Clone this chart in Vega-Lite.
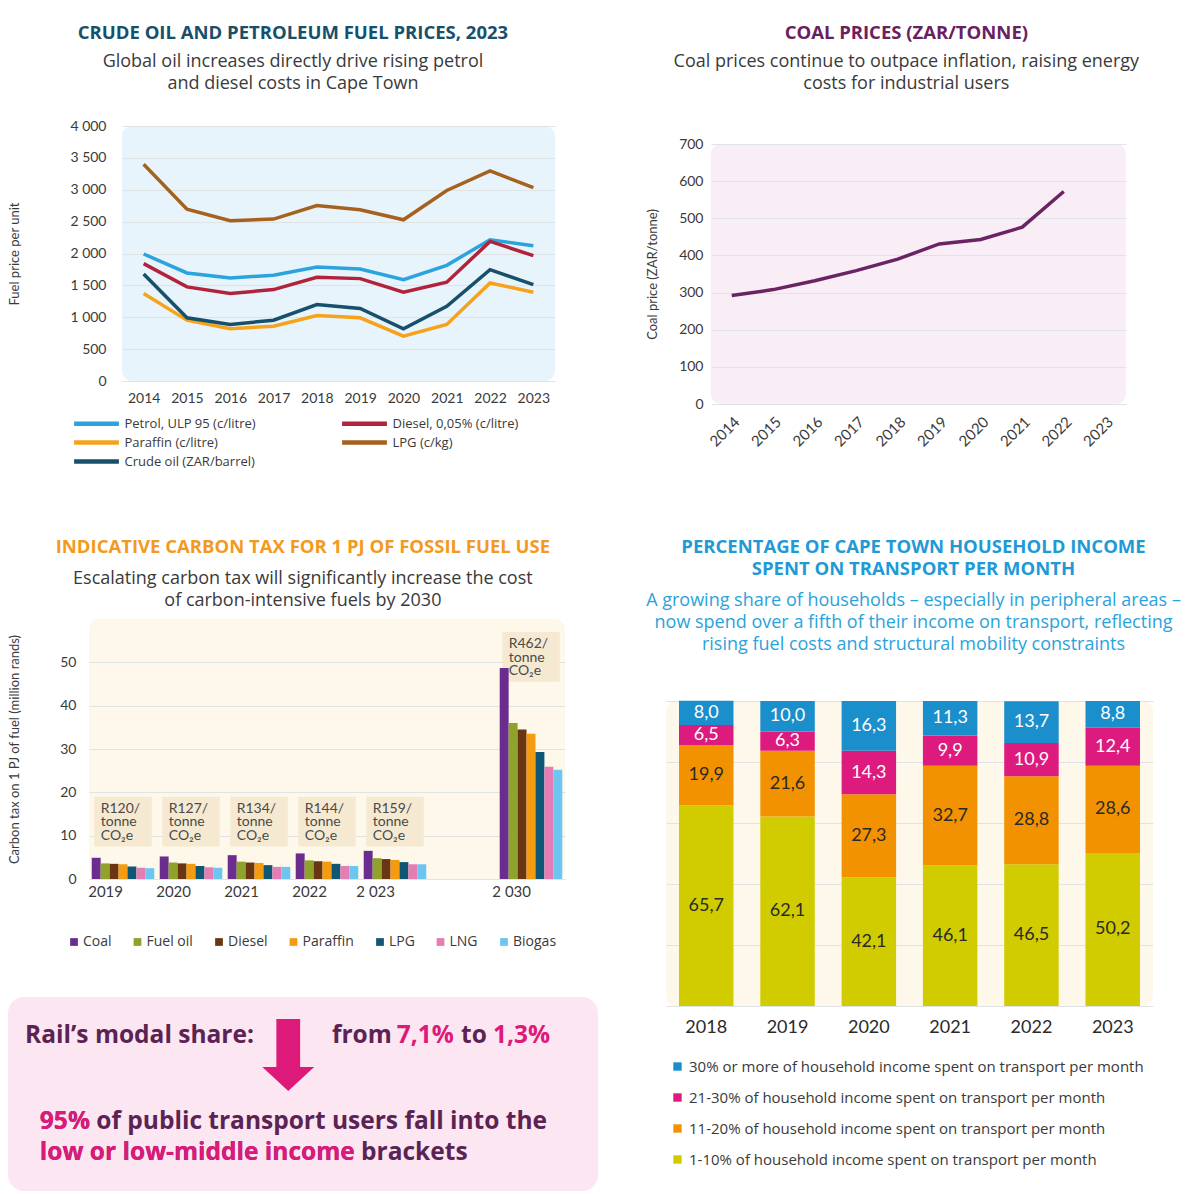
{
  "$schema": "https://vega.github.io/schema/vega-lite/v6.json",
  "background": "white",
  "padding": {"left": 1, "top": 16, "right": 0, "bottom": 0},
  "config": {
    "font": "Open Sans",
    "locale": {"number": {"decimal": ",", "thousands": " ", "grouping": [3], "currency": ["", ""]}},
    "view": {"stroke": null},
    "axis": {"labelFont": "Lato", "titleFont": "Lato", "labelColor": "#3a3a3a", "titleColor": "#3a3a3a", "titleFontWeight": "normal", "gridColor": "#dfe3e6", "domain": false, "ticks": false},
    "legend": {"labelFont": "Open Sans", "labelColor": "#3a3a3a"},
    "title": {"font": "Open Sans", "fontWeight": "bold", "fontSize": 18.5, "subtitleFont": "Open Sans", "subtitleFontSize": 18, "subtitleColor": "#3a3a3a", "subtitleLineHeight": 22, "subtitlePadding": 11, "anchor": "middle", "frame": "bounds"}
  },
  "datasets": {
    "fuel": [
      {"year": "2014", "series": "Petrol, ULP 95 (c/litre)", "value": 1992},
      {"year": "2015", "series": "Petrol, ULP 95 (c/litre)", "value": 1695},
      {"year": "2016", "series": "Petrol, ULP 95 (c/litre)", "value": 1617},
      {"year": "2017", "series": "Petrol, ULP 95 (c/litre)", "value": 1658},
      {"year": "2018", "series": "Petrol, ULP 95 (c/litre)", "value": 1789},
      {"year": "2019", "series": "Petrol, ULP 95 (c/litre)", "value": 1757},
      {"year": "2020", "series": "Petrol, ULP 95 (c/litre)", "value": 1590},
      {"year": "2021", "series": "Petrol, ULP 95 (c/litre)", "value": 1815},
      {"year": "2022", "series": "Petrol, ULP 95 (c/litre)", "value": 2216},
      {"year": "2023", "series": "Petrol, ULP 95 (c/litre)", "value": 2123},
      {"year": "2014", "series": "Diesel, 0,05% (c/litre)", "value": 1841},
      {"year": "2015", "series": "Diesel, 0,05% (c/litre)", "value": 1476},
      {"year": "2016", "series": "Diesel, 0,05% (c/litre)", "value": 1372},
      {"year": "2017", "series": "Diesel, 0,05% (c/litre)", "value": 1434},
      {"year": "2018", "series": "Diesel, 0,05% (c/litre)", "value": 1627},
      {"year": "2019", "series": "Diesel, 0,05% (c/litre)", "value": 1606},
      {"year": "2020", "series": "Diesel, 0,05% (c/litre)", "value": 1392},
      {"year": "2021", "series": "Diesel, 0,05% (c/litre)", "value": 1549},
      {"year": "2022", "series": "Diesel, 0,05% (c/litre)", "value": 2190},
      {"year": "2023", "series": "Diesel, 0,05% (c/litre)", "value": 1966},
      {"year": "2014", "series": "Paraffin (c/litre)", "value": 1372},
      {"year": "2015", "series": "Paraffin (c/litre)", "value": 954},
      {"year": "2016", "series": "Paraffin (c/litre)", "value": 819},
      {"year": "2017", "series": "Paraffin (c/litre)", "value": 860},
      {"year": "2018", "series": "Paraffin (c/litre)", "value": 1027},
      {"year": "2019", "series": "Paraffin (c/litre)", "value": 991},
      {"year": "2020", "series": "Paraffin (c/litre)", "value": 704},
      {"year": "2021", "series": "Paraffin (c/litre)", "value": 887},
      {"year": "2022", "series": "Paraffin (c/litre)", "value": 1538},
      {"year": "2023", "series": "Paraffin (c/litre)", "value": 1392},
      {"year": "2014", "series": "LPG (c/kg)", "value": 3400},
      {"year": "2015", "series": "LPG (c/kg)", "value": 2696},
      {"year": "2016", "series": "LPG (c/kg)", "value": 2514},
      {"year": "2017", "series": "LPG (c/kg)", "value": 2540},
      {"year": "2018", "series": "LPG (c/kg)", "value": 2753},
      {"year": "2019", "series": "LPG (c/kg)", "value": 2686},
      {"year": "2020", "series": "LPG (c/kg)", "value": 2529},
      {"year": "2021", "series": "LPG (c/kg)", "value": 2988},
      {"year": "2022", "series": "LPG (c/kg)", "value": 3296},
      {"year": "2023", "series": "LPG (c/kg)", "value": 3035},
      {"year": "2014", "series": "Crude oil (ZAR/barrel)", "value": 1679},
      {"year": "2015", "series": "Crude oil (ZAR/barrel)", "value": 991},
      {"year": "2016", "series": "Crude oil (ZAR/barrel)", "value": 887},
      {"year": "2017", "series": "Crude oil (ZAR/barrel)", "value": 954},
      {"year": "2018", "series": "Crude oil (ZAR/barrel)", "value": 1199},
      {"year": "2019", "series": "Crude oil (ZAR/barrel)", "value": 1137},
      {"year": "2020", "series": "Crude oil (ZAR/barrel)", "value": 819},
      {"year": "2021", "series": "Crude oil (ZAR/barrel)", "value": 1173},
      {"year": "2022", "series": "Crude oil (ZAR/barrel)", "value": 1747},
      {"year": "2023", "series": "Crude oil (ZAR/barrel)", "value": 1512}
    ],
    "coal": [
      {"year": "2014", "price": 292},
      {"year": "2015", "price": 308},
      {"year": "2016", "price": 332},
      {"year": "2017", "price": 359},
      {"year": "2018", "price": 390},
      {"year": "2019", "price": 431},
      {"year": "2020", "price": 443},
      {"year": "2021", "price": 476},
      {"year": "2022", "price": 572}
    ],
    "tax": [
      {"year": "2019", "fuel": "Coal", "value": 4.9},
      {"year": "2019", "fuel": "Fuel oil", "value": 3.6},
      {"year": "2019", "fuel": "Diesel", "value": 3.5},
      {"year": "2019", "fuel": "Paraffin", "value": 3.4},
      {"year": "2019", "fuel": "LPG", "value": 2.9},
      {"year": "2019", "fuel": "LNG", "value": 2.6},
      {"year": "2019", "fuel": "Biogas", "value": 2.5},
      {"year": "2020", "fuel": "Coal", "value": 5.2},
      {"year": "2020", "fuel": "Fuel oil", "value": 3.8},
      {"year": "2020", "fuel": "Diesel", "value": 3.6},
      {"year": "2020", "fuel": "Paraffin", "value": 3.5},
      {"year": "2020", "fuel": "LPG", "value": 3.0},
      {"year": "2020", "fuel": "LNG", "value": 2.7},
      {"year": "2020", "fuel": "Biogas", "value": 2.6},
      {"year": "2021", "fuel": "Coal", "value": 5.5},
      {"year": "2021", "fuel": "Fuel oil", "value": 4.0},
      {"year": "2021", "fuel": "Diesel", "value": 3.8},
      {"year": "2021", "fuel": "Paraffin", "value": 3.7},
      {"year": "2021", "fuel": "LPG", "value": 3.2},
      {"year": "2021", "fuel": "LNG", "value": 2.8},
      {"year": "2021", "fuel": "Biogas", "value": 2.8},
      {"year": "2022", "fuel": "Coal", "value": 5.9},
      {"year": "2022", "fuel": "Fuel oil", "value": 4.3},
      {"year": "2022", "fuel": "Diesel", "value": 4.1},
      {"year": "2022", "fuel": "Paraffin", "value": 4.0},
      {"year": "2022", "fuel": "LPG", "value": 3.5},
      {"year": "2022", "fuel": "LNG", "value": 3.0},
      {"year": "2022", "fuel": "Biogas", "value": 3.0},
      {"year": "2 023", "fuel": "Coal", "value": 6.5},
      {"year": "2 023", "fuel": "Fuel oil", "value": 4.8},
      {"year": "2 023", "fuel": "Diesel", "value": 4.6},
      {"year": "2 023", "fuel": "Paraffin", "value": 4.4},
      {"year": "2 023", "fuel": "LPG", "value": 3.9},
      {"year": "2 023", "fuel": "LNG", "value": 3.4},
      {"year": "2 023", "fuel": "Biogas", "value": 3.4},
      {"year": "2 030", "fuel": "Coal", "value": 48.7},
      {"year": "2 030", "fuel": "Fuel oil", "value": 36.0},
      {"year": "2 030", "fuel": "Diesel", "value": 34.5},
      {"year": "2 030", "fuel": "Paraffin", "value": 33.5},
      {"year": "2 030", "fuel": "LPG", "value": 29.3},
      {"year": "2 030", "fuel": "LNG", "value": 25.9},
      {"year": "2 030", "fuel": "Biogas", "value": 25.2}
    ],
    "rates": [
      {"year": "2019", "lo": 7.5, "hi": 19, "label": "R120/\ntonne\nCO₂e"},
      {"year": "2020", "lo": 7.5, "hi": 19, "label": "R127/\ntonne\nCO₂e"},
      {"year": "2021", "lo": 7.5, "hi": 19, "label": "R134/\ntonne\nCO₂e"},
      {"year": "2022", "lo": 7.5, "hi": 19, "label": "R144/\ntonne\nCO₂e"},
      {"year": "2 023", "lo": 7.5, "hi": 19, "label": "R159/\ntonne\nCO₂e"},
      {"year": "2 030", "lo": 45.5, "hi": 57, "label": "R462/\ntonne\nCO₂e"}
    ],
    "share": [
      {"year": "2018", "cat": "1-10% of household income spent on transport per month", "value": 65.7},
      {"year": "2018", "cat": "11-20% of household income spent on transport per month", "value": 19.9},
      {"year": "2018", "cat": "21-30% of household income spent on transport per month", "value": 6.5},
      {"year": "2018", "cat": "30% or more of household income spent on transport per month", "value": 8.0},
      {"year": "2019", "cat": "1-10% of household income spent on transport per month", "value": 62.1},
      {"year": "2019", "cat": "11-20% of household income spent on transport per month", "value": 21.6},
      {"year": "2019", "cat": "21-30% of household income spent on transport per month", "value": 6.3},
      {"year": "2019", "cat": "30% or more of household income spent on transport per month", "value": 10.0},
      {"year": "2020", "cat": "1-10% of household income spent on transport per month", "value": 42.1},
      {"year": "2020", "cat": "11-20% of household income spent on transport per month", "value": 27.3},
      {"year": "2020", "cat": "21-30% of household income spent on transport per month", "value": 14.3},
      {"year": "2020", "cat": "30% or more of household income spent on transport per month", "value": 16.3},
      {"year": "2021", "cat": "1-10% of household income spent on transport per month", "value": 46.1},
      {"year": "2021", "cat": "11-20% of household income spent on transport per month", "value": 32.7},
      {"year": "2021", "cat": "21-30% of household income spent on transport per month", "value": 9.9},
      {"year": "2021", "cat": "30% or more of household income spent on transport per month", "value": 11.3},
      {"year": "2022", "cat": "1-10% of household income spent on transport per month", "value": 46.5},
      {"year": "2022", "cat": "11-20% of household income spent on transport per month", "value": 28.8},
      {"year": "2022", "cat": "21-30% of household income spent on transport per month", "value": 10.9},
      {"year": "2022", "cat": "30% or more of household income spent on transport per month", "value": 13.7},
      {"year": "2023", "cat": "1-10% of household income spent on transport per month", "value": 50.2},
      {"year": "2023", "cat": "11-20% of household income spent on transport per month", "value": 28.6},
      {"year": "2023", "cat": "21-30% of household income spent on transport per month", "value": 12.4},
      {"year": "2023", "cat": "30% or more of household income spent on transport per month", "value": 8.8}
    ],
    "rail": [{"k": 1}]
  },
  "concat": [
    {"width": 1, "height": 1, "data": {"name": "rail"}, "mark": {"type": "point", "opacity": 0}, "encoding": {}},
    {"width": 1, "height": 1, "data": {"name": "rail"}, "mark": {"type": "point", "opacity": 0}, "encoding": {}},
    {
      "concat": [
        {"width": 1, "height": 1, "data": {"name": "rail"}, "mark": {"type": "point", "opacity": 0}, "encoding": {}},
        {
          "width": 433, "height": 255,
          "view": {"fill": "#e8f4fb", "cornerRadius": 10},
          "title": {"text": "CRUDE OIL AND PETROLEUM FUEL PRICES, 2023", "color": "#17506b", "subtitle": ["Global oil increases directly drive rising petrol", "and diesel costs in Cape Town"], "offset": 26, "dx": 11},
          "data": {"name": "fuel"},
          "mark": {"type": "line", "strokeWidth": 3.5},
          "encoding": {
            "x": {"field": "year", "type": "ordinal", "scale": {"padding": 0.5}, "axis": {"title": null, "labelAngle": 0, "labelFontSize": 14, "labelPadding": 10}},
            "y": {"field": "value", "type": "quantitative", "scale": {"domain": [0, 4000]}, "axis": {"title": "Fuel price per unit", "values": [0, 500, 1000, 1500, 2000, 2500, 3000, 3500, 4000], "format": ",.0f", "labelFontSize": 14, "titleFontSize": 13, "labelPadding": 16, "titlePadding": 48}},
            "color": {"field": "series", "type": "nominal", "sort": null,
              "scale": {"domain": ["Petrol, ULP 95 (c/litre)", "Diesel, 0,05% (c/litre)", "Paraffin (c/litre)", "LPG (c/kg)", "Crude oil (ZAR/barrel)"], "range": ["#2ba3dc", "#b2233b", "#f7a21b", "#a5621f", "#17506b"]},
              "legend": {"title": null, "orient": "none", "legendX": -53, "legendY": 270, "direction": "horizontal", "columns": 2, "symbolType": "M-3.2,0L3.2,0", "symbolSize": 196, "symbolStrokeWidth": 4.5, "labelFontSize": 13, "columnPadding": 77, "rowPadding": 0, "labelOffset": 18.5, "padding": 18}}
          }
        },
        {"width": 1, "height": 1, "data": {"name": "rail"}, "mark": {"type": "point", "opacity": 0}, "encoding": {}},
        {
          "width": 476, "height": 260,
          "view": {"fill": "#fdf8ea", "cornerRadius": 10},
          "title": {"text": "INDICATIVE CARBON TAX FOR 1 PJ OF FOSSIL FUEL USE", "color": "#f39a1e", "subtitlePadding": 14, "subtitle": ["Escalating carbon tax will significantly increase the cost", "of carbon-intensive fuels by 2030"], "offset": 9, "dx": 16},
          "layer": [
            {
              "data": {"name": "rates"},
              "mark": {"type": "bar", "color": "#f6e9d2", "width": {"band": 0.92}},
              "encoding": {
                "x": {"field": "year", "type": "nominal"},
                "y": {"field": "lo", "type": "quantitative"},
                "y2": {"field": "hi"}
              }
            },
            {
              "data": {"name": "rates"},
              "mark": {"type": "text", "align": "left", "baseline": "top", "font": "Lato", "fontSize": 14, "color": "#4a4a4a", "lineBreak": "\n", "lineHeight": 13.5, "dx": 9, "dy": 5},
              "encoding": {
                "x": {"field": "year", "type": "nominal", "bandPosition": 0},
                "y": {"field": "hi", "type": "quantitative"},
                "text": {"field": "label"}
              }
            },
            {
              "data": {"name": "tax"},
              "mark": {"type": "bar"},
              "encoding": {
                "x": {"field": "year", "type": "nominal", "sort": null,
                  "scale": {"domain": ["2019", "2020", "2021", "2022", "2 023", " ", "2 030"], "paddingInner": 0.08, "paddingOuter": 0.04},
                  "axis": {"title": null, "labelAngle": 0, "labelFontSize": 15, "labelPadding": 12}},
                "xOffset": {"field": "fuel", "type": "nominal", "sort": null, "scale": {"domain": ["Coal", "Fuel oil", "Diesel", "Paraffin", "LPG", "LNG", "Biogas"]}},
                "y": {"field": "value", "type": "quantitative", "scale": {"domain": [0, 58]},
                  "axis": {"title": "Carbon tax on 1 PJ of fuel (million rands)", "values": [0, 5, 10, 15, 20, 25, 30, 35, 40, 45, 50], "labelFontSize": 14, "titleFontSize": 13, "labelPadding": 13, "titlePadding": 38}},
                "color": {"field": "fuel", "type": "nominal", "sort": null,
                  "scale": {"domain": ["Coal", "Fuel oil", "Diesel", "Paraffin", "LPG", "LNG", "Biogas"], "range": ["#6b2c8f", "#8fa22b", "#6a3512", "#f49b12", "#0f5775", "#e47db4", "#6cc6f0"]},
                  "legend": {"title": null, "orient": "none", "legendX": -22, "legendY": 316, "direction": "horizontal", "symbolType": "square", "symbolSize": 60, "labelFontSize": 14, "columnPadding": 18.5, "labelOffset": 2}}
              }
            }
          ]
        },
        {"width": 1, "height": 1, "data": {"name": "rail"}, "mark": {"type": "point", "opacity": 0}, "encoding": {}},
        {
          "width": 590, "height": 194,
          "view": {"fill": "#fce6f1", "cornerRadius": 16},
          "data": {"name": "rail"},
          "layer": [
            {"mark": {"type": "text", "align": "left", "baseline": "middle", "fontSize": 24.5, "fontWeight": "bold", "color": "#5b2354", "text": "Rail’s modal share:"},
             "encoding": {"x": {"datum": 2.9, "type": "quantitative", "scale": {"domain": [0, 100]}, "axis": null}, "y": {"datum": 79.9, "type": "quantitative", "scale": {"domain": [0, 100]}, "axis": null}}},
            {"mark": {"type": "text", "align": "left", "baseline": "middle", "fontSize": 24.5, "fontWeight": "bold", "color": "#5b2354", "text": "from"},
             "encoding": {"x": {"datum": 54.9, "type": "quantitative"}, "y": {"datum": 79.9, "type": "quantitative"}}},
            {"mark": {"type": "text", "align": "left", "baseline": "middle", "fontSize": 24.5, "fontWeight": "bold", "color": "#dd1a7a", "text": "7,1%"},
             "encoding": {"x": {"datum": 65.9, "type": "quantitative"}, "y": {"datum": 79.9, "type": "quantitative"}}},
            {"mark": {"type": "text", "align": "left", "baseline": "middle", "fontSize": 24.5, "fontWeight": "bold", "color": "#5b2354", "text": "to"},
             "encoding": {"x": {"datum": 76.8, "type": "quantitative"}, "y": {"datum": 79.9, "type": "quantitative"}}},
            {"mark": {"type": "text", "align": "left", "baseline": "middle", "fontSize": 24.5, "fontWeight": "bold", "color": "#dd1a7a", "text": "1,3%"},
             "encoding": {"x": {"datum": 82.2, "type": "quantitative"}, "y": {"datum": 79.9, "type": "quantitative"}}},
            {"mark": {"type": "point", "filled": true, "opacity": 1, "color": "#dd1a7a", "size": 5184, "shape": "M-0.33,-1L0.33,-1L0.33,0.33L0.72,0.33L0,1L-0.72,0.33L-0.33,0.33Z"},
             "encoding": {"x": {"datum": 47.5, "type": "quantitative"}, "y": {"datum": 70.1, "type": "quantitative"}}},
            {"mark": {"type": "text", "align": "left", "baseline": "middle", "fontSize": 24.5, "fontWeight": "bold", "color": "#5b2354", "text": "95% of public transport users fall into the"},
             "encoding": {"x": {"datum": 5.4, "type": "quantitative"}, "y": {"datum": 35.6, "type": "quantitative"}}},
            {"mark": {"type": "text", "align": "left", "baseline": "middle", "fontSize": 24.5, "fontWeight": "bold", "color": "#dd1a7a", "text": "95%"},
             "encoding": {"x": {"datum": 5.4, "type": "quantitative"}, "y": {"datum": 35.6, "type": "quantitative"}}},
            {"mark": {"type": "text", "align": "left", "baseline": "middle", "fontSize": 24.5, "fontWeight": "bold", "color": "#5b2354", "text": "low or low-middle income brackets"},
             "encoding": {"x": {"datum": 5.4, "type": "quantitative"}, "y": {"datum": 19.6, "type": "quantitative"}}},
            {"mark": {"type": "text", "align": "left", "baseline": "middle", "fontSize": 24.5, "fontWeight": "bold", "color": "#dd1a7a", "text": "low or low-middle income"},
             "encoding": {"x": {"datum": 5.4, "type": "quantitative"}, "y": {"datum": 19.6, "type": "quantitative"}}}
          ]
        }
      ],
      "columns": 2,
      "align": "none",
      "spacing": {"row": 48, "column": 0},
      "resolve": {"scale": {"color": "independent"}, "legend": {"color": "independent"}}
    },
    {
      "concat": [
        {"width": 1, "height": 1, "data": {"name": "rail"}, "mark": {"type": "point", "opacity": 0}, "encoding": {}},
        {
          "width": 415, "height": 260,
          "view": {"fill": "#f9eef6", "cornerRadius": 10},
          "title": {"text": "COAL PRICES (ZAR/TONNE)", "color": "#6a2060", "subtitle": ["Coal prices continue to outpace inflation, raising energy", "costs for industrial users"], "offset": 44, "dx": 20},
          "data": {"name": "coal"},
          "mark": {"type": "line", "strokeWidth": 3.5, "color": "#6b2463"},
          "encoding": {
            "x": {"field": "year", "type": "ordinal", "scale": {"domain": ["2014", "2015", "2016", "2017", "2018", "2019", "2020", "2021", "2022", "2023"], "padding": 0.5}, "axis": {"title": null, "labelAngle": -45, "labelFontSize": 15, "labelPadding": 10}},
            "y": {"field": "price", "type": "quantitative", "scale": {"domain": [0, 700]}, "axis": {"title": "Coal price (ZAR/tonne)", "values": [0, 100, 200, 300, 400, 500, 600, 700], "labelFontSize": 14, "titleFontSize": 13, "labelPadding": 8, "titlePadding": 19}}
          }
        },
        {"width": 1, "height": 1, "data": {"name": "rail"}, "mark": {"type": "point", "opacity": 0}, "encoding": {}},
        {
          "width": 487, "height": 305,
          "view": {"fill": "#fdf8ea", "cornerRadius": 10},
          "title": {"text": ["PERCENTAGE OF CAPE TOWN HOUSEHOLD INCOME", "SPENT ON TRANSPORT PER MONTH"], "color": "#1f9ad6", "lineHeight": 22, "subtitleColor": "#2aa3dc", "subtitlePadding": 13, "subtitle": ["A growing share of households – especially in peripheral areas –", "now spend over a fifth of their income on transport, reflecting", "rising fuel costs and structural mobility constraints"], "offset": 47, "dx": 4},
          "data": {"name": "share"},
          "layer": [
            {
              "mark": {"type": "bar"},
              "encoding": {
                "x": {"field": "year", "type": "ordinal", "scale": {"paddingInner": 0.33, "paddingOuter": 0.16}, "axis": {"title": null, "labelAngle": 0, "labelFontSize": 18, "labelPadding": 12, "labelColor": "#2a2a2a"}},
                "y": {"field": "value", "type": "quantitative", "stack": "zero", "scale": {"domain": [0, 100]}, "axis": {"title": null, "labels": false, "values": [0, 20, 40, 60, 80, 100]}},
                "order": {"field": "cat", "sort": "ascending"},
                "color": {"field": "cat", "type": "nominal",
                  "scale": {"domain": ["30% or more of household income spent on transport per month", "21-30% of household income spent on transport per month", "11-20% of household income spent on transport per month", "1-10% of household income spent on transport per month"], "range": ["#1b8fcb", "#dd1a7e", "#f39200", "#d0cc00"]},
                  "legend": {"title": null, "orient": "none", "legendX": 4, "legendY": 358, "symbolType": "square", "symbolSize": 70, "labelFontSize": 15, "rowPadding": 15, "labelOffset": 4, "labelLimit": 600}}
              }
            },
            {
              "mark": {"type": "text", "font": "Lato", "fontSize": 18},
              "encoding": {
                "x": {"field": "year", "type": "ordinal"},
                "y": {"field": "value", "type": "quantitative", "stack": "zero", "bandPosition": 0.5},
                "detail": {"field": "cat"},
                "order": {"field": "cat", "sort": "ascending"},
                "text": {"field": "value", "type": "quantitative", "format": ".1f"},
                "color": {"condition": {"test": "indexof(datum.cat, '21-30') == 0 || indexof(datum.cat, '30%') == 0", "value": "white"}, "value": "#2a2a2a"}
              }
            }
          ]
        }
      ],
      "columns": 2,
      "align": "none",
      "spacing": {"row": 88, "column": 0},
      "resolve": {"scale": {"color": "independent"}, "legend": {"color": "independent"}}
    }
  ],
  "columns": 2,
  "align": "none",
  "spacing": {"row": 0, "column": 41},
  "resolve": {"scale": {"color": "independent"}, "legend": {"color": "independent"}}
}
